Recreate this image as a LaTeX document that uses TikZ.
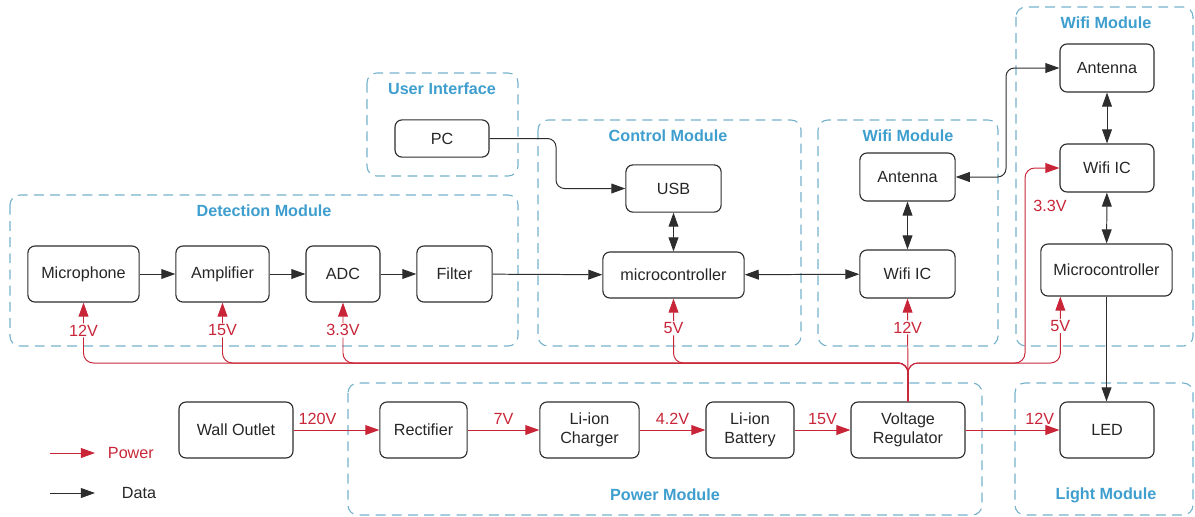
\documentclass[tikz,border=0pt]{standalone}
\usepackage{fontspec}
\setmainfont{Liberation Sans}
\usepackage{xcolor}
\usetikzlibrary{arrows.meta, positioning, calc}

\definecolor{modblue}{RGB}{62,158,206}
\definecolor{modline}{RGB}{118,178,204}
\definecolor{pwrred}{RGB}{200,38,56}
\definecolor{boxgray}{RGB}{45,45,45}

\newcommand{\dgfont}{\fontsize{11.5}{13.5}\selectfont}

\tikzset{
  block/.style={draw=boxgray, line width=0.8pt, rounded corners=5pt, align=center,
                text=black!85, minimum height=1.4cm, inner sep=2pt},
  module/.style={draw=modline, line width=0.8pt, dash pattern=on 7pt off 4.5pt, rounded corners=7pt},
  modtitle/.style={text=modblue, font=\dgfont\bfseries},
  data/.style={draw=boxgray, line width=0.7pt, rounded corners=6pt,
               -{Triangle[length=10pt,width=7pt]}},
  bidata/.style={data, {Triangle[length=10pt,width=7pt]}-{Triangle[length=10pt,width=7pt]}},
  pwr/.style={draw=pwrred, line width=0.7pt, rounded corners=7pt,
              -{Triangle[length=10pt,width=7pt]}},
  volt/.style={text=pwrred, fill=white, inner sep=1pt},
}

\begin{document}
\begin{tikzpicture}[x=0.025cm, y=-0.025cm, every node/.style={font=\dgfont}]
    \useasboundingbox (0,0) rectangle (1195,516);

    % module frames
    \draw[module] (10,195) rectangle (518,346);
    \draw[module] (367,73) rectangle (518,176);
    \draw[module] (538,120) rectangle (801,346);
    \draw[module] (818,120) rectangle (998,346);
    \draw[module] (1016,7) rectangle (1193,346);
    \draw[module] (348,383) rectangle (982,515);
    \draw[module] (1015,383) rectangle (1193,515);

    \node[modtitle] (tdet) at (264,211) {Detection Module};
    \node[modtitle] (tui) at (442,89) {User Interface};
    \node[modtitle] (tctrl) at (668,136) {Control Module};
    \node[modtitle] (twifia) at (908,136) {Wifi Module};
    \node[modtitle] (twifib) at (1106,23) {Wifi Module};
    \node[modtitle] (tpwr) at (665,495) {Power Module};
    \node[modtitle] (tlight) at (1106,495) {Light Module};

    % blocks
    \node[block, minimum width=2.78cm] (mic) at (83.5,274) {Microphone};
    \node[block, minimum width=2.33cm] (amp) at (222.5,274) {Amplifier};
    \node[block, minimum width=1.85cm] (adc) at (343,274) {ADC};
    \node[block, minimum width=1.88cm] (filter) at (454.5,274) {Filter};

    \node[block, minimum width=2.35cm, minimum height=0.93cm] (pc) at (442,138.5) {PC};

    \node[block, minimum width=2.38cm, minimum height=1.18cm] (usb) at (673.5,188.5) {USB};
    \node[block, minimum width=3.53cm, minimum height=1.15cm] (mcu) at (673.5,275) {microcontroller};

    \node[block, minimum width=2.38cm, minimum height=1.2cm] (anta) at (907.5,177) {Antenna};
    \node[block, minimum width=2.38cm, minimum height=1.2cm] (wifia) at (907.5,274) {Wifi IC};

    \node[block, minimum width=2.35cm, minimum height=1.2cm] (antb) at (1107,68) {Antenna};
    \node[block, minimum width=2.35cm, minimum height=1.2cm] (wifib) at (1107,168) {Wifi IC};
    \node[block, minimum width=3.28cm, minimum height=1.3cm] (mcub) at (1106.5,270) {Microcontroller};

    \node[block, minimum width=2.85cm] (outlet) at (236,430) {Wall Outlet};
    \node[block, minimum width=2.18cm] (rect) at (423.5,430) {Rectifier};
    \node[block, minimum width=2.48cm] (charger) at (589.5,430) {Li-ion\\Charger};
    \node[block, minimum width=2.2cm] (battery) at (750,430) {Li-ion\\Battery};
    \node[block, minimum width=2.85cm] (reg) at (908,430) {Voltage\\Regulator};
    \node[block, minimum width=2.35cm] (led) at (1107,430) {LED};

    % data
    \draw[data] (mic) -- (amp);
    \draw[data] (amp) -- (adc);
    \draw[data] (adc) -- (filter);
    \draw[data] (filter) -- (mcu);
    \draw[data] (pc.east) -- (556,138.5) |- (usb.west);
    \draw[bidata] (usb) -- (mcu);
    \draw[bidata] (mcu) -- (wifia);
    \draw[bidata] (anta) -- (wifia);
    \draw[bidata] (anta.east) -- (1006,177) |- (antb.west);
    \draw[bidata] (antb) -- (wifib);
    \draw[bidata] (wifib) -- (mcub);
    \draw[data] (mcub.south) -- (mcub.south |- led.north);

    % power chain
    \draw[pwr] (outlet) -- node[pos=0.28, above, text=pwrred]{120V} (rect);
    \draw[pwr] (rect) -- node[above, text=pwrred]{7V} (charger);
    \draw[pwr] (charger) -- node[above, text=pwrred]{4.2V} (battery);
    \draw[pwr] (battery) -- node[above, text=pwrred]{15V} (reg);
    \draw[pwr] (reg) -- node[pos=0.79, above, text=pwrred]{12V} (led);

    % power bus
    \coordinate (bus) at (908,363);
    \draw[pwr] (reg.north) -- (bus) -| node[volt, pos=0.77]{12V} (mic.south);
    \draw[pwr] (reg.north) -- (bus) -| node[volt, pos=0.77]{15V} (amp.south);
    \draw[pwr] (reg.north) -- (bus) -| node[volt, pos=0.77]{3.3V} (adc.south);
    \draw[pwr] (reg.north) -- (bus) -| node[volt, pos=0.77]{5V} (mcu.south);
    \draw[pwr] (reg.north) -- node[volt, pos=0.72]{12V} (wifia.south);
    \draw[pwr] (reg.north) -- (bus) -- (1025,363) |- (wifib.west);
    \node[text=pwrred] (v33b) at (1050,206) {3.3V};
    \draw[pwr] (reg.north) -- (bus) -| node[volt, pos=0.78]{5V} ($(mcub.south west)+(20,0)$);

    % legend
    \coordinate (lpa) at (50,453);
    \coordinate (lpb) at (95,453);
    \coordinate (lda) at (50,493);
    \coordinate (ldb) at (95,493);
    \draw[pwr] (lpa) -- (lpb);
    \draw[data] (lda) -- (ldb);
    \node[text=pwrred, anchor=west] (lpower) at (103,453) {Power};
    \node[anchor=west, text=black!85] (ldata) at (117,493) {Data};
\end{tikzpicture}
\end{document}
